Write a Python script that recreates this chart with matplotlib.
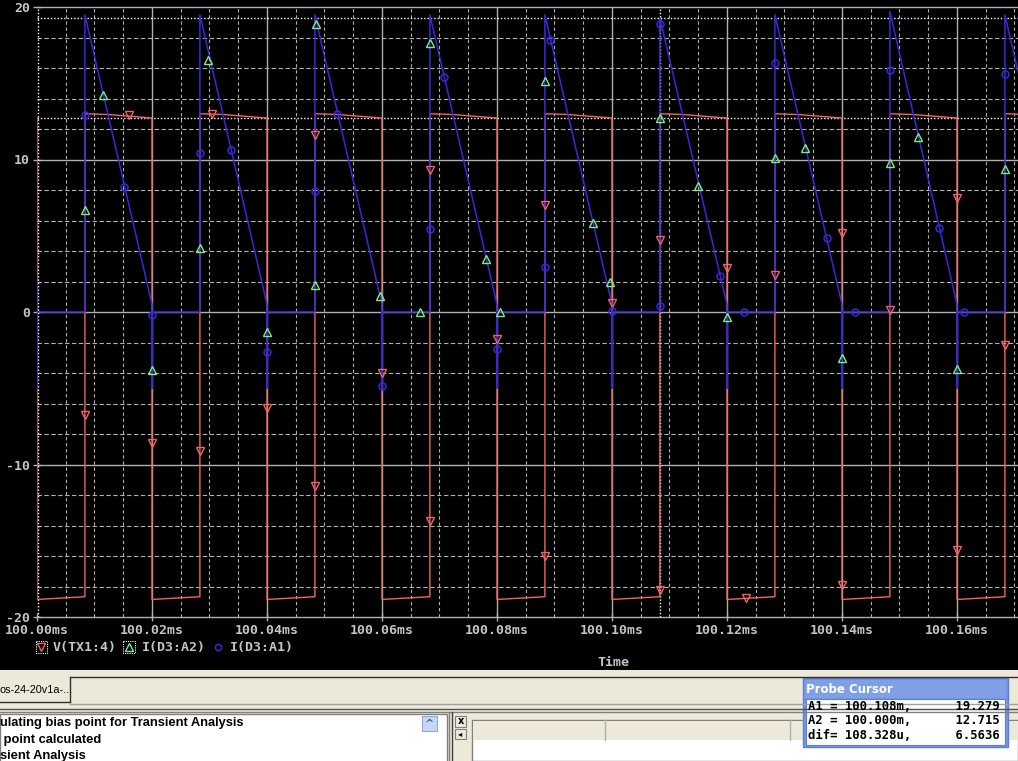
import numpy as np
import matplotlib
matplotlib.use("Agg")
import matplotlib.pyplot as plt
from matplotlib.patches import Rectangle

# tempo em ms a partir de 100.00ms
RISE_T = [0.00833, 0.02833, 0.04833, 0.06833, 0.08833, 0.10833, 0.12833, 0.14833, 0.16833]
FALL_T = [0.02, 0.04, 0.06, 0.08, 0.10, 0.12, 0.14, 0.16, 0.18]

# V(TX1:4)
V_START = [12.715, -18.85]
V_HIGH_A = [13.0, 13.0, 13.0, 13.0, 13.0, 13.0, 13.0, 13.0, 13.0]
V_HIGH_B = [12.95, 12.95, 12.95, 12.95, 12.95, 12.95, 12.95, 12.95, 12.95]
V_HIGH_C = [12.72, 12.72, 12.72, 12.72, 12.72, 12.72, 12.72, 12.72, 12.72]
V_LOW_A = [-18.85, -18.85, -18.85, -18.85, -18.85, -18.85, -18.85, -18.85, -18.85]
V_LOW_B = [-18.67, -18.67, -18.67, -18.67, -18.67, -18.67, -18.67, -18.67, -18.67]

# I(D3:A1)
I_START = [2.0, -5.0, 0.0]
I_PEAK = [19.48, 19.48, 19.48, 19.48, 19.48, 19.279, 19.48, 19.7, 19.48]
I_END = [0.5, 0.5, 0.5, 0.5, 0.5, 0.5, 0.5, 0.5, 0.5]
I_RECOV = [-5.0, -5.0, -5.0, -5.0, -5.0, -5.0, -5.0, -5.0, -5.0]

# marcadores
V_MK_T = [0.00833, 0.01593, 0.02, 0.02833, 0.03035, 0.04, 0.04833, 0.04833, 0.06, 0.06833,
          0.06833, 0.08, 0.08833, 0.08833, 0.10, 0.10833, 0.10833, 0.12, 0.12325, 0.12833,
          0.14, 0.14, 0.14833, 0.16, 0.16, 0.16833]
V_MK_Y = [-6.75, 12.94, -8.62, -9.09, 12.98, -6.31, 11.6, -11.38, -4.03, 9.3,
          -13.7, -1.74, 7.0, -15.97, 0.57, 4.75, -18.26, 2.86, -18.75, 2.42,
          5.19, -17.87, 0.13, 7.48, -15.58, -2.16]

A2_MK_T = [0.00833, 0.01148, 0.02, 0.02833, 0.0298, 0.04, 0.04833, 0.0486, 0.0597, 0.0666,
           0.06833, 0.07803, 0.0805, 0.08833, 0.09664, 0.0997, 0.10833, 0.11496, 0.12, 0.12833,
           0.13357, 0.14, 0.14833, 0.15322, 0.16, 0.16833]
A2_MK_Y = [6.7, 14.2, -3.82, 4.2, 16.5, -1.3, 1.74, 18.9, 1.04, 0.0,
           17.66, 3.5, 0.0, 15.17, 5.84, 2.0, 12.73, 8.26, -0.34, 10.13,
           10.78, -3.04, 9.74, 11.5, -3.77, 9.4]

A1_MK_T = [0.00833, 0.01506, 0.02, 0.02833, 0.03366, 0.04, 0.04833, 0.0522, 0.06, 0.06833,
           0.07078, 0.08, 0.08833, 0.08916, 0.10, 0.10833, 0.10833, 0.11872, 0.1229, 0.12833,
           0.1374, 0.1422, 0.14833, 0.15687, 0.1613, 0.16833]
A1_MK_Y = [12.9, 8.18, -0.18, 10.4, 10.6, -2.65, 7.92, 13.0, -4.88, 5.43,
           15.4, -2.44, 2.94, 17.84, 0.05, 0.39, 18.9, 2.34, 0.0, 16.3,
           4.86, 0.0, 15.9, 5.53, 0.0, 15.6]

# cursores
CUR_A1 = (0.108328, 19.279)
CUR_A2 = (0.0, 12.715)
CURSOR_LINES = ["A1 = 100.108m,      19.279",
                "A2 = 100.000m,      12.715",
                "dif= 108.328u,      6.5636"]

XTICKS = [0.0, 0.02, 0.04, 0.06, 0.08, 0.10, 0.12, 0.14, 0.16]
XLABELS = ["100.00ms", "100.02ms", "100.04ms", "100.06ms", "100.08ms",
           "100.10ms", "100.12ms", "100.14ms", "100.16ms"]
YTICKS = [-20, -10, 0, 10, 20]

OUT_LINES = ["ulating bias point for Transient Analysis",
             " point calculated",
             "sient Analysis"]

RED = "#f06464"
BLUE = "#3a28d8"
GREEN = "#7cf07c"
GRID = "#b0b0b0"
TXT = "#c4c4c4"
MONO = "DejaVu Sans Mono"

# montar as curvas
vt = [0.0, 0.0]
vy = list(V_START)
it = [0.0, 0.0, 0.0]
iy = list(I_START)
for k in range(len(RISE_T)):
    r, f = RISE_T[k], FALL_T[k]
    vt += [r, r, r + 0.004, f, f]
    vy += [V_LOW_B[k], V_HIGH_A[k], V_HIGH_B[k], V_HIGH_C[k], V_LOW_A[k]]
    it += [r, r, f, f, f]
    iy += [0.0, I_PEAK[k], I_END[k], I_RECOV[k], 0.0]

fig = plt.figure(figsize=(10.18, 7.61), dpi=100, facecolor="black")

ax = fig.add_axes([37 / 1018, 1 - 617 / 761, 981 / 1018, 610 / 761])
ax.set_facecolor("black")
ax.set_xlim(0, 0.17061)
ax.set_ylim(-20, 20)

# grade
for x in np.arange(0.005, 0.171, 0.005):
    if abs(x / 0.02 - round(x / 0.02)) < 1e-6:
        ax.axvline(x, color=GRID, lw=1.0, zorder=1)
    else:
        ax.axvline(x, color=GRID, lw=0.8, ls=(0, (3, 2.5)), zorder=1)
for y in range(-18, 20, 2):
    if y % 10 == 0:
        ax.axhline(y, color=GRID, lw=1.0, zorder=1)
    else:
        ax.axhline(y, color=GRID, lw=0.8, ls=(0, (4, 2.2)), zorder=1)

# cursores
dot = (0, (1, 1.4))
ax.axhline(CUR_A1[1], color="white", lw=1.0, ls=dot, zorder=2)
ax.axhline(CUR_A2[1], color="white", lw=1.0, ls=dot, zorder=2)
ax.axvline(CUR_A1[0], color="white", lw=1.0, ls=dot, zorder=2)
ax.axvline(CUR_A2[0] + 0.0001, color="white", lw=1.0, ls=dot, zorder=2)

ax.plot(vt, vy, color=RED, lw=1.0, zorder=3)
ax.plot(it, iy, color=BLUE, lw=1.1, zorder=4)

ax.plot(V_MK_T, V_MK_Y, ls="none", marker="v", ms=6, mfc="none", mec=RED, mew=1.0, zorder=5)
ax.plot(A2_MK_T, A2_MK_Y, ls="none", marker="^", ms=6, mfc="none", mec=GREEN, mew=1.0, zorder=5)
ax.plot(A1_MK_T, A1_MK_Y, ls="none", marker="o", ms=5, mfc="none", mec=BLUE, mew=1.1, zorder=5)

for s in ["left", "right"]:
    ax.spines[s].set_visible(False)
for s in ["top", "bottom"]:
    ax.spines[s].set_color(GRID)
    ax.spines[s].set_linewidth(1.0)

ax.set_xticks(XTICKS)
ax.set_xticklabels(XLABELS)
ax.set_yticks(YTICKS)
ax.set_yticklabels([str(v) for v in YTICKS])
ax.tick_params(which="major", direction="inout", length=6, width=1, color=GRID,
               labelcolor=TXT, pad=2)
for lab in ax.get_xticklabels() + ax.get_yticklabels():
    lab.set_fontfamily(MONO)
    lab.set_fontweight("bold")
    lab.set_fontsize(9.5)

# parte de baixo (janela)
ui = fig.add_axes([0, 0, 1, 1], facecolor="none")
ui.set_xlim(0, 1018)
ui.set_ylim(761, 0)
ui.axis("off")

# legenda
ui.add_patch(Rectangle((36, 641), 11, 12, fill=False, ec="white", lw=0.8, ls=(0, (1, 1))))
ui.plot([41.5], [647], marker="v", ms=6, mfc="none", mec=RED, mew=1.0)
ui.text(53, 648, "V(TX1:4)", color=TXT, fontsize=9.5, family=MONO, weight="bold", va="center")
ui.add_patch(Rectangle((123, 641), 12, 12, fill=False, ec="white", lw=0.8, ls=(0, (1, 1))))
ui.plot([129], [647], marker="^", ms=6, mfc="none", mec=GREEN, mew=1.0)
ui.text(142, 648, "I(D3:A2)", color=TXT, fontsize=9.5, family=MONO, weight="bold", va="center")
ui.plot([218], [647], marker="o", ms=4.5, mfc="none", mec=BLUE, mew=1.1)
ui.text(230, 648, "I(D3:A1)", color=TXT, fontsize=9.5, family=MONO, weight="bold", va="center")
ui.text(613, 662, "Time", color=TXT, fontsize=9.5, family=MONO, weight="bold", ha="center", va="center")

BEIGE = "#ece9d8"
ui.add_patch(Rectangle((0, 670), 1018, 91, fc=BEIGE, ec="none"))
ui.plot([70, 1018], [677, 677], color="#303030", lw=1)
ui.plot([70, 70], [677, 702], color="#303030", lw=1)
ui.plot([0, 70], [702, 702], color="#303030", lw=1)
ui.text(0, 690, "os-24-20v1a-...", color="black", fontsize=7.8, family="Liberation Sans", va="center")
ui.plot([70, 1018], [704, 704], color="#a0a0a0", lw=1)
ui.plot([0, 1018], [709, 709], color="#505050", lw=1)
ui.plot([0, 1018], [712, 712], color="#808080", lw=1)

ui.add_patch(Rectangle((0, 714), 447, 50, fc="white", ec="#808080", lw=1))
for j, line in enumerate(OUT_LINES):
    ui.text(0, 723 + j * 16.5, line, color="black", fontsize=9.3, family="Liberation Sans",
            weight="bold", va="center")
ui.add_patch(Rectangle((422, 716), 15, 15, fc="#c6d6fc", ec="#8fa8e0", lw=0.8))
ui.text(429.5, 724, "^", color="#4d6185", fontsize=8, weight="bold", ha="center", va="center")
ui.plot([449, 449], [712, 761], color="#808080", lw=1)
ui.plot([452, 452], [712, 761], color="#404040", lw=1)
ui.add_patch(Rectangle((455, 716), 11, 11, fc=BEIGE, ec="#808080", lw=0.8))
ui.text(460.5, 721.5, "x", color="black", fontsize=7, weight="bold", ha="center", va="center")
ui.add_patch(Rectangle((455, 729), 11, 10, fc=BEIGE, ec="#808080", lw=0.8))
ui.text(460.5, 734, "◂", color="black", fontsize=6, ha="center", va="center")
ui.add_patch(Rectangle((472, 720), 546, 41, fc="white", ec="#808080", lw=1))
ui.add_patch(Rectangle((473, 721), 545, 19, fc=BEIGE, ec="none"))
ui.plot([605, 605], [720, 740], color="#b0b0b0", lw=1)
ui.plot([790, 790], [720, 740], color="#b0b0b0", lw=1)

# janela Probe Cursor
ui.add_patch(Rectangle((803, 678), 205, 69, fc="#7a96df", ec="#5a7edc", lw=1))
ui.add_patch(Rectangle((805, 680), 201, 18, fc="#7f9fe6", ec="none"))
ui.text(806, 689.5, "Probe Cursor", color="white", fontsize=8.5, family="DejaVu Sans",
        weight="bold", va="center")
ui.add_patch(Rectangle((806, 699), 199, 46, fc="white", ec="#5a7edc", lw=0.8))
for j, line in enumerate(CURSOR_LINES):
    ui.text(808, 706.5 + j * 14.5, line, color="black", fontsize=8.8, family=MONO,
            weight="bold", va="center")

fig.savefig("out.png", dpi=100, facecolor=fig.get_facecolor())
